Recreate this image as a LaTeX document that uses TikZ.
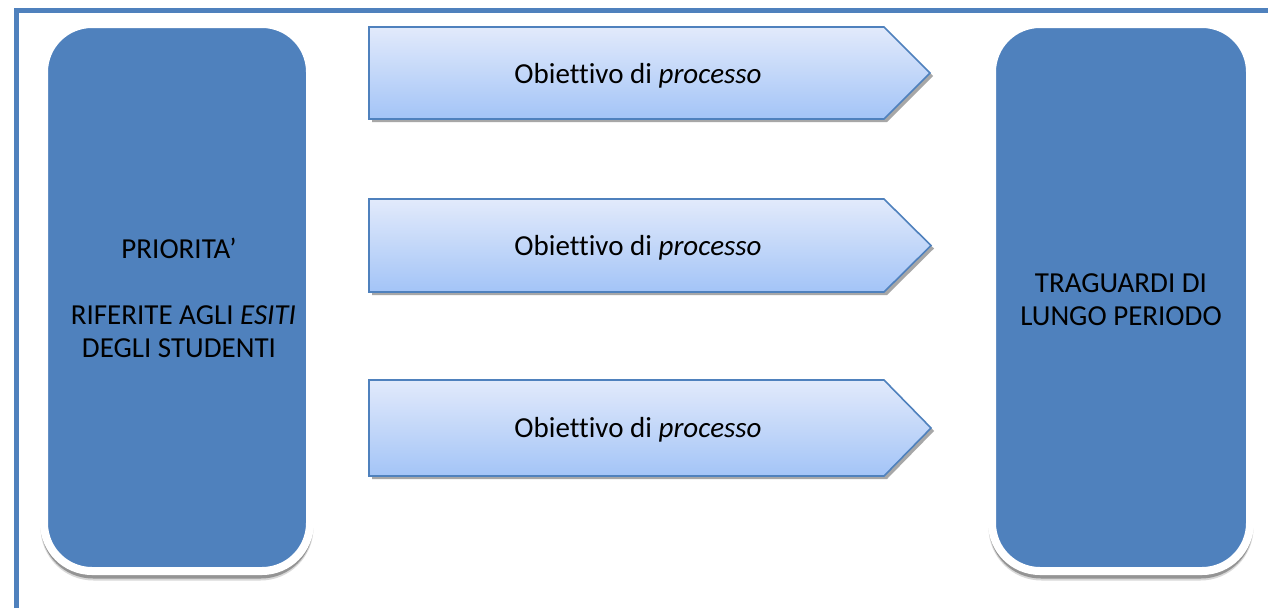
\documentclass[tikz,border=0pt]{standalone}
\usepackage{fontspec}
\setmainfont{Carlito}[Ligatures=NoCommon]
\usetikzlibrary{shadows}
\definecolor{accent}{HTML}{4F81BD}
\definecolor{arrtop}{RGB}{226,234,251}
\definecolor{arrbot}{RGB}{163,196,247}
\tikzset{
  framebar/.style={draw=accent, line width=5pt},
  boxshadow/.style={fill=black!42, rounded corners=52pt},
  boxshadowsoft/.style={fill=black!30, opacity=0.5, rounded corners=53pt},
  bigbox/.style={draw=white, line width=8pt, fill=accent, rounded corners=48pt},
  objarrow/.style={draw=accent, line width=1.6pt, top color=arrtop, bottom color=arrbot,
    drop shadow={shadow xshift=3pt, shadow yshift=-3pt, fill=black!38, opacity=0.9}},
  lbl/.style={font=\fontsize{29}{33}\selectfont, align=center, inner sep=0pt, text=black}
}
\begin{document}
\begin{tikzpicture}[x=1pt,y=-1pt]
\useasboundingbox[fill=white] (0,0) rectangle (1268,608);
% frame
\draw[framebar] (16.5,608) -- (16.5,10.5) -- (1268,10.5);
% big boxes with shadows
\fill[boxshadowsoft] (40.5,30) rectangle (313.5,580.5);
\fill[boxshadow] (41,30) rectangle (313,578.5);
\fill[boxshadowsoft] (988.5,30) rectangle (1253.5,580.5);
\fill[boxshadow] (989,30) rectangle (1253,578.5);
\draw[bigbox] (44,24) rectangle (310,571);
\draw[bigbox] (992,24) rectangle (1250,571);
\node[lbl] (prio) at (179,297.5) {PRIORITA’\\[33pt]\hspace*{0.3em}RIFERITE AGLI \textit{ESITI}\\DEGLI STUDENTI};
\node[lbl] (trag) at (1121,300) {TRAGUARDI DI\\LUNGO PERIODO};
% arrows
\draw[objarrow] (369,27) -- (884,27) -- (930,73) -- (884,119) -- (369,119) -- cycle;
\draw[objarrow] (369,199) -- (884,199) -- (931,245.5) -- (884,292) -- (369,292) -- cycle;
\draw[objarrow] (369,380) -- (884,380) -- (931,428) -- (884,476) -- (369,476) -- cycle;
\node[lbl] (ob1) at (638,76) {Obiettivo di \textit{processo}};
\node[lbl] (ob2) at (638,248) {Obiettivo di \textit{processo}};
\node[lbl] (ob3) at (638,430) {Obiettivo di \textit{processo}};
\end{tikzpicture}
\end{document}
